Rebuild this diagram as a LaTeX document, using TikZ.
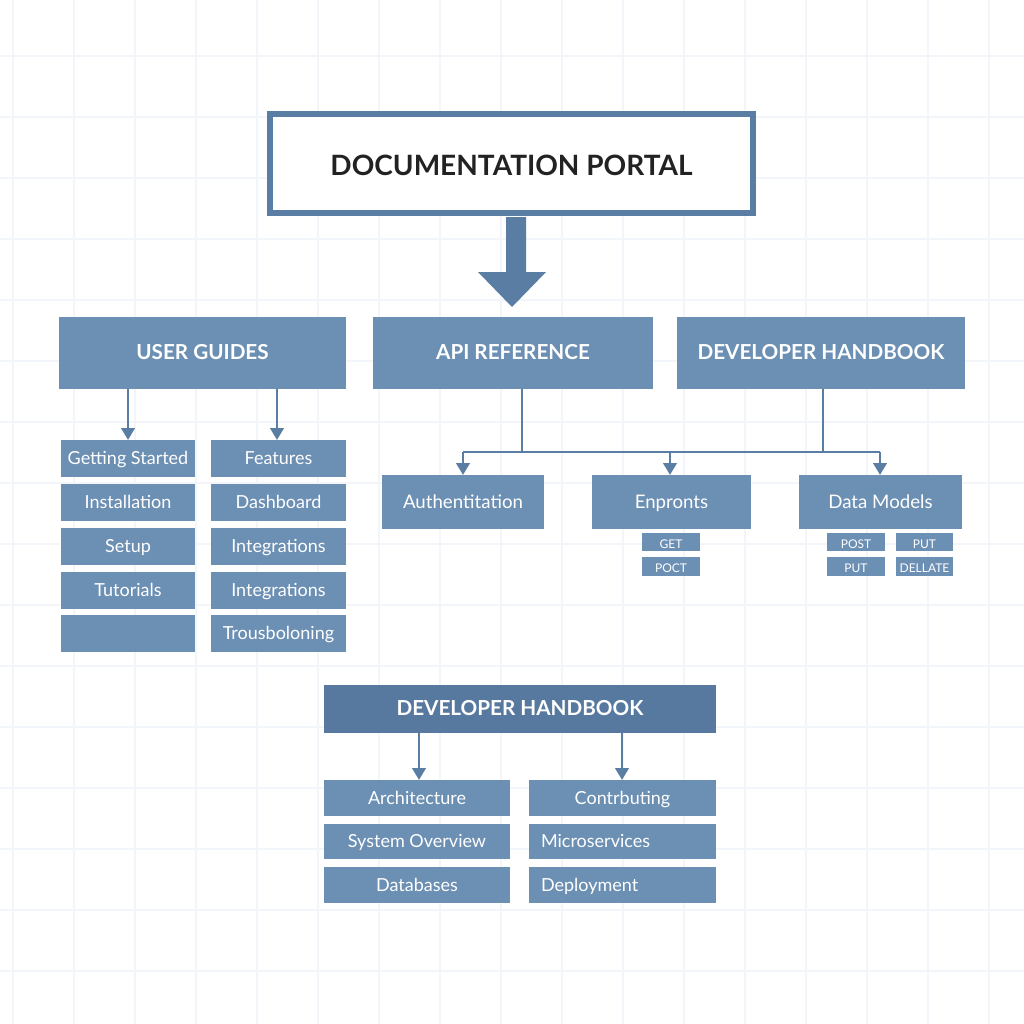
\documentclass[tikz,border=0pt]{standalone}
\usepackage{fontspec}
\setmainfont{Lato}
\usetikzlibrary{arrows.meta,positioning}
\definecolor{boxblue}{HTML}{6C8FB4}
\definecolor{darkblue}{HTML}{5779A0}
\definecolor{linec}{HTML}{5A7EA3}
\definecolor{gridc}{HTML}{F2F5F9}
\definecolor{titletext}{HTML}{222222}
\tikzset{
  pxbox/.style={draw=none, fill=boxblue, text=white, inner sep=0pt, outer sep=0pt, anchor=north west, text height=1.1em, text depth=0.18em},
  hdr/.style={pxbox, font=\fontsize{15.5}{18}\selectfont\bfseries, text height=1.15em},
  sub/.style={pxbox, font=\fontsize{13.5}{15}\selectfont},
  tiny/.style={pxbox, font=\fontsize{9}{11}\selectfont},
  conn/.style={draw=linec, line width=2.2pt, -{Triangle[length=9pt,width=10pt]}},
  plainconn/.style={draw=linec, line width=2.2pt},
}
\begin{document}
\begin{tikzpicture}[x=0.75pt,y=-0.75pt]
\useasboundingbox (0,0) rectangle (1024,1024);
\fill[white] (0,0) rectangle (1024,1024);
% grid
\foreach \i in {0,...,16} {
  \draw[gridc, line width=0.8pt] (13+61*\i,0) -- (13+61*\i,1024);
  \draw[gridc, line width=0.8pt] (0,-5+61*\i) -- (1024,-5+61*\i);
}
% title
\node[draw=linec, line width=4pt, fill=white, minimum width=483*0.75pt, minimum height=99*0.75pt, inner sep=0pt, text=titletext] (portal) at (511.5,163.5) {};
\node[font=\fontsize{21}{24}\selectfont\bfseries, text=titletext, inner sep=0pt] (portaltext) at (511.5,165.5) {DOCUMENTATION PORTAL};
% big arrow
\fill[linec] (506,217) -- (526,217) -- (526,272) -- (546,272) -- (512,307) -- (478,272) -- (506,272) -- cycle;
% headers
\node[hdr, minimum width=287*0.75pt, minimum height=72*0.75pt] (ug) at (59,317) {USER GUIDES};
\node[hdr, minimum width=280*0.75pt, minimum height=72*0.75pt] (api) at (373,317) {API REFERENCE};
\node[hdr, minimum width=288*0.75pt, minimum height=72*0.75pt] (dh) at (677,317) {DEVELOPER HANDBOOK};
% user guides sub boxes
\foreach \n/\y/\t in {gs/440/Getting Started, inst/484/Installation, setup/528/Setup, tut/572/Tutorials, blank/615/{}} {
  \node[sub, minimum width=134*0.75pt, minimum height=37*0.75pt] (\n) at (61,\y) {\t};
}
\foreach \n/\y/\t in {feat/440/Features, dash/484/Dashboard, integ/528/Integrations, integb/572/Integrations, troub/615/Trousboloning} {
  \node[sub, minimum width=135*0.75pt, minimum height=37*0.75pt] (\n) at (211,\y) {\t};
}
\coordinate (ugL) at (128,389);
\coordinate (ugR) at (277,389);
\draw[conn] (ugL) -- (ugL |- gs.north);
\draw[conn] (ugR) -- (ugR |- feat.north);
% API sub boxes
\node[sub, font=\fontsize{14}{16}\selectfont, minimum width=162*0.75pt, minimum height=54*0.75pt] (auth) at (382,475) {Authentitation};
\node[sub, font=\fontsize{14}{16}\selectfont, minimum width=159*0.75pt, minimum height=54*0.75pt] (endp) at (592,475) {Enpronts};
\node[sub, font=\fontsize{14}{16}\selectfont, minimum width=163*0.75pt, minimum height=54*0.75pt] (dm) at (799,475) {Data Models};
\coordinate (apiS) at (522,389);
\coordinate (dhS) at (823,389);
\coordinate (bar) at (0,452);
\coordinate (b1) at (463,452);
\coordinate (b2) at (670,452);
\coordinate (b3) at (880,452);
\draw[plainconn] (apiS) -- (apiS |- bar);
\draw[plainconn] (dhS) -- (dhS |- bar);
\draw[plainconn] (b1) -- (b3);
\draw[conn] (b1) -- (b1 |- auth.north);
\draw[conn] (b2) -- (b2 |- endp.north);
\draw[conn] (b3) -- (b3 |- dm.north);
% tiny boxes
\node[tiny, minimum width=58*0.75pt, minimum height=18*0.75pt] (get) at (642,533) {GET};
\node[tiny, minimum width=58*0.75pt, minimum height=19*0.75pt] (poct) at (642,557) {POCT};
\node[tiny, minimum width=58*0.75pt, minimum height=18*0.75pt] (post) at (827,533) {POST};
\node[tiny, minimum width=57*0.75pt, minimum height=18*0.75pt] (put) at (896,533) {PUT};
\node[tiny, minimum width=58*0.75pt, minimum height=19*0.75pt] (putb) at (827,557) {PUT};
\node[tiny, minimum width=57*0.75pt, minimum height=19*0.75pt] (del) at (896,557) {DELLATE};
% bottom developer handbook
\node[hdr, fill=darkblue, minimum width=392*0.75pt, minimum height=48*0.75pt] (dhb) at (324,685) {DEVELOPER HANDBOOK};
\foreach \n/\y/\t/\h in {arch/780/Architecture/36, sysov/824/System Overview/35, dbs/867/Databases/36} {
  \node[sub, minimum width=186*0.75pt, minimum height=\h*0.75pt] (\n) at (324,\y) {\t};
}
\node[sub, minimum width=187*0.75pt, minimum height=36*0.75pt] (contr) at (529,780) {Contrbuting};
\node[sub, minimum width=187*0.75pt, minimum height=35*0.75pt, align=left, text width=163*0.75pt, inner xsep=12*0.75pt] (micro) at (529,824) {Microservices};
\node[sub, minimum width=187*0.75pt, minimum height=36*0.75pt, align=left, text width=163*0.75pt, inner xsep=12*0.75pt] (depl) at (529,867) {Deployment};
\coordinate (dl) at (419,733);
\coordinate (dr) at (622,733);
\draw[conn] (dl) -- (dl |- arch.north);
\draw[conn] (dr) -- (dr |- contr.north);
\end{tikzpicture}
\end{document}
